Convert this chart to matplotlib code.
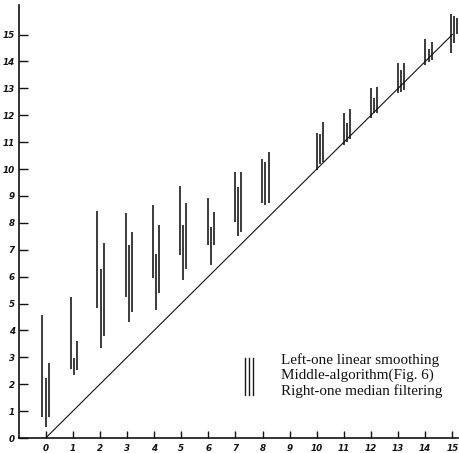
import matplotlib
matplotlib.use("Agg")
import matplotlib.pyplot as plt

# ---- data ----
groups = [0, 1, 2, 3, 4, 5, 6, 7, 8, 10, 11, 12, 13, 14, 15]
mid_x = [0.0, 1.04, 2.03, 3.07, 4.07, 5.07, 6.09, 7.10, 8.10,
         10.12, 11.12, 12.12, 13.10, 14.13, 15.06]
# left bar: linear smoothing
left_low = [0.79, 2.55, 4.82, 5.25, 5.94, 6.80, 7.17, 8.02, 8.75,
            9.96, 10.89, 11.88, 12.81, 13.87, 14.30]
left_high = [4.57, 5.25, 8.44, 8.35, 8.66, 9.37, 8.91, 9.88, 10.38,
             11.33, 12.09, 13.00, 13.93, 14.82, 15.76]
# middle bar: algorithm (Fig. 6)
mid_low = [0.42, 2.36, 3.33, 4.32, 4.77, 5.87, 6.43, 7.51, 8.66,
           10.19, 11.01, 12.07, 12.87, 13.99, 14.67]
mid_high = [2.22, 2.96, 6.27, 7.17, 6.86, 7.92, 7.86, 9.33, 10.27,
            11.29, 11.70, 12.65, 13.68, 14.45, 15.69]
# right bar: median filtering
right_low = [0.79, 2.53, 3.79, 4.70, 5.38, 6.27, 7.17, 7.67, 8.72,
             10.27, 11.11, 12.07, 12.94, 14.05, 15.04]
right_high = [2.78, 3.62, 7.26, 7.65, 7.92, 8.75, 8.41, 9.88, 10.64,
              11.76, 12.22, 13.06, 13.95, 14.74, 15.60]

x_ticks = list(range(0, 16))
y_ticks = list(range(0, 16))
legend_labels = ["Left-one linear smoothing",
                 "Middle-algorithm(Fig. 6)",
                 "Right-one median filtering"]

# ---- figure ----
W, H = 459, 453
fig = plt.figure(figsize=(W / 100, H / 100), dpi=100)
ax = fig.add_axes([19 / W, 15 / H, (458 - 19) / W, (438 - 5) / H])
ax.set_xlim(-0.985, 15.21)
ax.set_ylim(0, 16.1)

for s in ("top", "right"):
    ax.spines[s].set_visible(False)
for s in ("left", "bottom"):
    ax.spines[s].set_linewidth(1.2)
    ax.spines[s].set_color("#111111")

off = 0.12
ax.vlines([m - off for m in mid_x], left_low, left_high, colors="#1a1a1a", lw=1.2)
ax.vlines(mid_x, mid_low, mid_high, colors="#1a1a1a", lw=1.2)
ax.vlines([m + off for m in mid_x], right_low, right_high, colors="#1a1a1a", lw=1.2)

# reference diagonal y = x
ax.plot([x_ticks[0], x_ticks[-1]], [y_ticks[0], y_ticks[-1]], color="#111111", lw=0.8)

ax.set_xticks(x_ticks)
ax.set_yticks(y_ticks)
tickfont = dict(family="DejaVu Sans", style="italic", weight="bold", size=6.3)
ax.set_xticklabels([str(v) for v in x_ticks], **tickfont)
ax.set_yticklabels([str(v) for v in y_ticks], **tickfont)
ax.tick_params(axis="x", direction="in", length=5, width=1.0, pad=4, colors="#111111")
ax.tick_params(axis="y", direction="in", length=6.5, width=1.0, pad=3, colors="#111111")

# legend
lx = [0.515, 0.524, 0.532]
for x in lx:
    ax.plot([x, x], [0.100, 0.185], transform=ax.transAxes, color="#1a1a1a", lw=1.0)
ty = [(438 - 360) / 433, (438 - 375.5) / 433, (438 - 391.5) / 433]
for t, y in zip(legend_labels, ty):
    ax.text(0.596, y, t, transform=ax.transAxes, va="center", ha="left",
            family="Liberation Serif", size=10.9, color="#111111")

fig.savefig("out.png", dpi=100)
